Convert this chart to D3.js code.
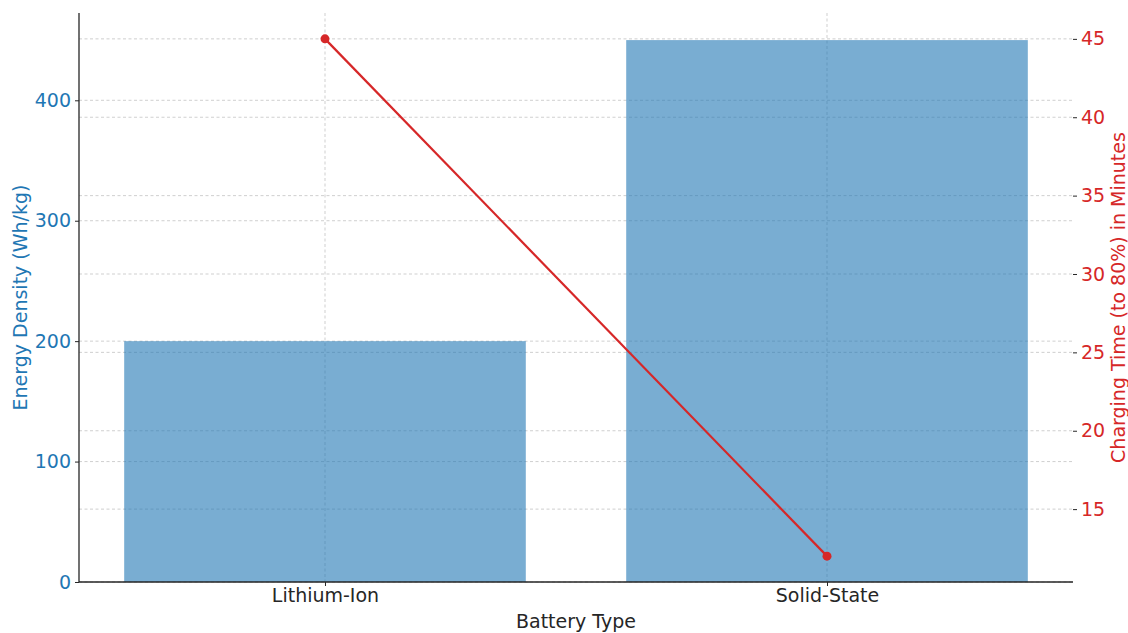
<!DOCTYPE html>
<html>
<head>
<meta charset="utf-8">
<script src="https://cdn.jsdelivr.net/npm/d3@7"></script>
<style>
  html, body { margin: 0; padding: 0; background: #fff; }
  svg { display: block; font-family: "DejaVu Sans", sans-serif; }
</style>
</head>
<body>
<svg id="chart" width="1128" height="633"></svg>
<script>
// Battery comparison: energy density (bars) vs. charging time (line)
const batteryTypes = ["Lithium-Ion", "Solid-State"];
const energyDensity = [200, 450];     // Wh/kg
const chargingTime = [45, 12];        // minutes to 80%
const densityTicks = [0, 100, 200, 300, 400];
const timeTicks = [15, 20, 25, 30, 35, 40, 45];

const W = 1128, H = 633;
const m = { left: 79, right: 55, top: 13, bottom: 51 };
const iw = W - m.left - m.right, ih = H - m.top - m.bottom;

const blue = "#1f77b4", red = "#d62728", ink = "#262626";
const fs = 19;

const svg = d3.select("#chart");
const g = svg.append("g").attr("transform", `translate(${m.left},${m.top})`);

// Category positions 0..n-1, bar width 0.8, 5% padding
const x = d3.scaleLinear().domain([-0.49, 1.49]).range([0, iw]);
const yL = d3.scaleLinear().domain([0, d3.max(energyDensity) * 1.05]).range([ih, 0]);
const tMin = d3.min(chargingTime), tMax = d3.max(chargingTime), tPad = (tMax - tMin) * 0.05;
const yR = d3.scaleLinear().domain([tMin - tPad, tMax + tPad]).range([ih, 0]);

// Grid lines
const grid = g.append("g").attr("stroke", "#b0b0b0").attr("stroke-width", 0.8)
  .attr("stroke-dasharray", "3,2.5").attr("opacity", 0.75);
grid.selectAll(".gv").data(batteryTypes).join("line")
  .attr("x1", (d, i) => x(i)).attr("x2", (d, i) => x(i)).attr("y1", 0).attr("y2", ih);
grid.selectAll(".gl").data(densityTicks).join("line")
  .attr("x1", 0).attr("x2", iw).attr("y1", d => yL(d)).attr("y2", d => yL(d));
grid.selectAll(".gr").data(timeTicks).join("line")
  .attr("x1", 0).attr("x2", iw).attr("y1", d => yR(d)).attr("y2", d => yR(d));

// Bars
g.selectAll(".bar").data(energyDensity).join("rect")
  .attr("x", (d, i) => x(i - 0.4))
  .attr("width", x(0.4) - x(-0.4))
  .attr("y", d => yL(d))
  .attr("height", d => ih - yL(d))
  .attr("fill", blue).attr("fill-opacity", 0.6);

// Axes
const axL = g.append("g").call(d3.axisLeft(yL).tickValues(densityTicks).tickSize(4).tickPadding(4).tickFormat(d3.format("d")));
axL.select(".domain").attr("stroke", ink).attr("stroke-width", 1.3).attr("d", `M0,0V${ih}`);
axL.selectAll(".tick line").attr("stroke", ink);
axL.selectAll("text").attr("fill", blue).attr("font-size", fs).attr("font-family", "DejaVu Sans");

const axR = g.append("g").attr("transform", `translate(${iw},0)`)
  .call(d3.axisRight(yR).tickValues(timeTicks).tickSize(4).tickPadding(4).tickFormat(d3.format("d")));
axR.select(".domain").remove();
axR.selectAll(".tick line").attr("stroke", ink);
axR.selectAll("text").attr("fill", red).attr("font-size", fs).attr("font-family", "DejaVu Sans");

const axB = g.append("g").attr("transform", `translate(0,${ih})`)
  .call(d3.axisBottom(x).tickValues(batteryTypes.map((d, i) => i)).tickSize(4).tickPadding(3)
    .tickFormat(i => batteryTypes[i]));
axB.select(".domain").attr("stroke", ink).attr("stroke-width", 1.3).attr("d", `M0,0H${iw}`);
axB.selectAll(".tick line").attr("stroke", ink);
axB.selectAll("text").attr("fill", ink).attr("font-size", fs).attr("font-family", "DejaVu Sans");

// Charging-time line
const line = d3.line().x((d, i) => x(i)).y(d => yR(d));
g.append("path").datum(chargingTime).attr("d", line)
  .attr("fill", "none").attr("stroke", red).attr("stroke-width", 2.2);
g.selectAll(".pt").data(chargingTime).join("circle")
  .attr("cx", (d, i) => x(i)).attr("cy", d => yR(d)).attr("r", 4.5).attr("fill", red);

// Axis titles
svg.append("text").attr("x", m.left + iw / 2).attr("y", 628)
  .attr("text-anchor", "middle").attr("fill", ink).attr("font-size", fs)
  .text("Battery Type");
svg.append("text").attr("transform", `translate(27,${m.top + ih / 2}) rotate(-90)`)
  .attr("text-anchor", "middle").attr("fill", blue).attr("font-size", fs)
  .text("Energy Density (Wh/kg)");
svg.append("text").attr("transform", `translate(1125,${m.top + ih / 2}) rotate(-90)`)
  .attr("text-anchor", "middle").attr("fill", red).attr("font-size", fs)
  .text("Charging Time (to 80%) in Minutes");
</script>
</body>
</html>
